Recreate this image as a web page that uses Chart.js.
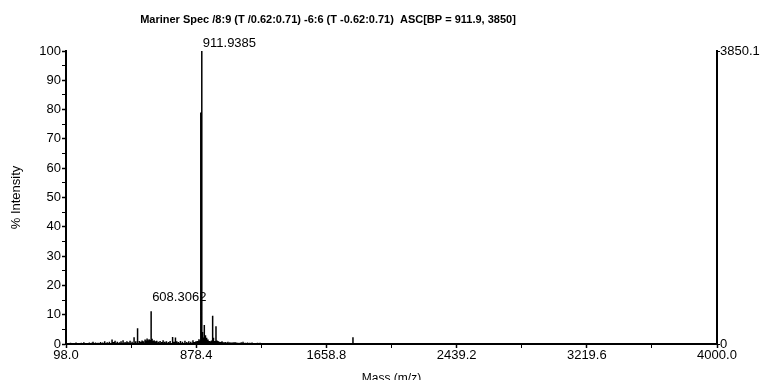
<!DOCTYPE html>
<html>
<head>
<meta charset="utf-8">
<script src="https://cdn.jsdelivr.net/npm/chart.js@4"></script>
<style>
  html, body { margin: 0; padding: 0; background: #fff; }
  #wrap { width: 763px; height: 380px; }
</style>
</head>
<body>
<div id="wrap"><canvas id="spec"></canvas></div>
<script>
// peak list (mass, % intensity)
const masses = [
  110, 125, 140, 158, 172, 190, 205, 220, 238, 252, 260, 275, 290, 305, 318, 330,
  345, 358, 374, 383, 392, 405, 418, 428, 440, 452, 463, 472, 482, 494, 506, 516,
  527, 538, 546, 554, 562, 572, 578, 584, 590, 596, 602, 608.3062, 614, 620, 626,
  634, 642, 652, 662, 672, 680, 690, 700, 712, 722, 737, 745, 754, 762, 772, 784,
  796, 811, 822, 834, 846, 859, 868, 877, 886, 895, 900, 905.9, 911.9385, 916, 922,
  927, 934, 941, 949, 956, 964, 970, 977, 982, 989, 997, 1003, 1009, 1018, 1026,
  1033, 1042, 1052, 1061, 1069, 1080, 1090, 1100, 1111, 1122, 1135, 1148, 1159,
  1172, 1186, 1200, 1213, 1230, 1246, 1261, 1290, 1330, 1380, 1440, 1500, 1560,
  1620, 1700, 1760, 1818, 1870, 1950, 2040, 2130, 2240, 2350, 2460, 2580, 2700,
  2820, 2950, 3080, 3210, 3340, 3480, 3620, 3760, 3900
];
const intensities = [
  0.3, 0.4, 0.3, 0.5, 0.3, 0.4, 0.6, 0.3, 0.5, 0.4, 0.8, 0.5, 0.4, 0.7, 0.5, 0.9,
  0.6, 0.8, 1.5, 0.7, 1.1, 0.8, 0.6, 0.9, 1.3, 0.7, 0.9, 0.6, 1.1, 0.8, 2.3, 0.9,
  5.4, 1.0, 0.8, 1.2, 0.9, 1.5, 1.2, 1.9, 1.3, 1.6, 1.4, 11.2, 1.8, 1.0, 1.3,
  0.9, 1.1, 0.8, 1.0, 0.7, 1.3, 0.8, 0.9, 0.7, 1.0, 2.4, 0.8, 2.2, 0.9, 0.7, 1.0,
  0.8, 1.1, 0.7, 0.9, 0.8, 1.3, 0.7, 0.9, 1.0, 1.6, 1.2, 79.0, 100, 4.1, 2.2,
  6.5, 3.0, 2.1, 1.5, 1.0, 0.9, 1.2, 9.6, 2.1, 1.0, 6.1, 1.2, 1.0, 0.8, 0.7,
  0.9, 0.6, 0.7, 0.5, 0.8, 0.6, 0.5, 0.6, 0.7, 0.5, 0.4, 0.6, 0.8,
  0.4, 0.5, 0.4, 0.5, 0.3, 0.4, 0.4, 0.3, 0.3, 0.2, 0.3, 0.2, 0.3,
  0.2, 0.3, 0.2, 2.3, 0.2, 0.3, 0.2, 0.2, 0.3, 0.2, 0.2, 0.3, 0.2,
  0.2, 0.3, 0.2, 0.2, 0.3, 0.2, 0.2, 0.3, 0.2
];

const xTicks = [98.0, 878.4, 1658.8, 2439.2, 3219.6, 4000.0];
const yTicks = [0, 10, 20, 30, 40, 50, 60, 70, 80, 90, 100];
const rightTicks = [0, 3850.1];

const peakLabels = ['911.9385', '608.3062'];
const peakLabelMass = [911.9385, 608.3062];
const peakLabelInt = [100, 11.2];

const titleText = 'Mariner Spec /8:9 (T /0.62:0.71) -6:6 (T -0.62:0.71)  ASC[BP = 911.9, 3850]';

const FONT = '"Liberation Sans", Arial, sans-serif';

// stick spectrum: each peak goes up from the baseline and back down
const sticks = [];
masses.forEach((m, i) => {
  sticks.push({ x: m, y: 0 }, { x: m, y: intensities[i] }, { x: m, y: 0 });
});

// minor ticks halfway between the labelled ones
const xAll = [];
xTicks.forEach((v, i) => {
  xAll.push(v);
  if (i < xTicks.length - 1) xAll.push((v + xTicks[i + 1]) / 2);
});
const yAll = [];
yTicks.forEach((v, i) => {
  yAll.push(v);
  if (i < yTicks.length - 1) yAll.push(v + 5);
});

const overlay = {
  id: 'overlay',
  afterDraw(chart, args, opts) {
    const ctx = chart.ctx;
    const xs = chart.scales.x, ys = chart.scales.y;
    ctx.save();
    ctx.fillStyle = '#000';
    ctx.font = 'bold 11px ' + FONT;
    ctx.textAlign = 'center';
    ctx.textBaseline = 'middle';
    ctx.fillText(titleText, opts.titleX, opts.titleY);

    ctx.font = '13px ' + FONT;
    ctx.textAlign = 'left';
    ctx.textBaseline = 'alphabetic';
    peakLabels.forEach((t, i) => {
      const px = xs.getPixelForValue(peakLabelMass[i]);
      const py = ys.getPixelForValue(peakLabelInt[i]);
      ctx.fillText(t, px + 1, py - opts.lift[i]);
    });
    ctx.restore();
  }
};

new Chart(document.getElementById('spec'), {
  type: 'line',
  data: {
    datasets: [{
      data: sticks,
      borderColor: '#000',
      borderWidth: 1.5,
      pointRadius: 0,
      tension: 0,
      fill: false
    }]
  },
  options: {
    responsive: true,
    maintainAspectRatio: false,
    animation: false,
    layout: { padding: { top: 51, left: 0, right: 0, bottom: 0 } },
    plugins: {
      legend: { display: false },
      tooltip: { enabled: false },
      overlay: { titleX: 328, titleY: 20, lift: [4, 10] }
    },
    scales: {
      x: {
        type: 'linear',
        min: 98,
        max: 4000,
        afterBuildTicks: s => { s.ticks = xAll.map(v => ({ value: v })); },
        afterFit: s => { s.height = 36; },
        ticks: {
          autoSkip: false,
          maxRotation: 0,
          padding: 0,
          color: '#000',
          font: { family: FONT, size: 13 },
          callback: v => xTicks.includes(v) ? v.toFixed(1) : ''
        },
        grid: { drawOnChartArea: false, drawTicks: true, tickLength: 4, color: '#000',
                tickWidth: c => (c.tick && xTicks.includes(c.tick.value)) ? 1.5 : 1 },
        border: { display: true, color: '#000', width: 2 },
        title: { display: true, text: 'Mass (m/z)', color: '#000',
                 font: { family: FONT, size: 12 }, padding: { top: 0, bottom: -6 } }
      },
      y: {
        position: 'left',
        min: 0,
        max: 100,
        afterBuildTicks: s => { s.ticks = yAll.map(v => ({ value: v })); },
        afterFit: s => { s.width = 66; },
        ticks: {
          autoSkip: false,
          padding: 1,
          color: '#000',
          font: { family: FONT, size: 13 },
          callback: v => yTicks.includes(v) ? String(v) : ''
        },
        grid: { drawOnChartArea: false, drawTicks: true, tickLength: 4, color: '#000',
                tickWidth: c => (c.tick && yTicks.includes(c.tick.value)) ? 1.5 : 1 },
        border: { display: true, color: '#000', width: 2 },
        title: { display: true, text: '% Intensity', color: '#000',
                 font: { family: FONT, size: 13 }, padding: { top: 9, bottom: 0 } }
      },
      y2: {
        position: 'right',
        min: 0,
        max: 3850.1,
        afterBuildTicks: s => { s.ticks = rightTicks.map(v => ({ value: v })); },
        afterFit: s => { s.width = 46; },
        ticks: {
          autoSkip: false,
          padding: 0,
          color: '#000',
          font: { family: FONT, size: 13 },
          callback: v => String(v)
        },
        grid: { drawOnChartArea: false, drawTicks: true, tickLength: 3, color: '#000' },
        border: { display: true, color: '#000', width: 2 }
      }
    }
  },
  plugins: [overlay]
});
</script>
</body>
</html>
